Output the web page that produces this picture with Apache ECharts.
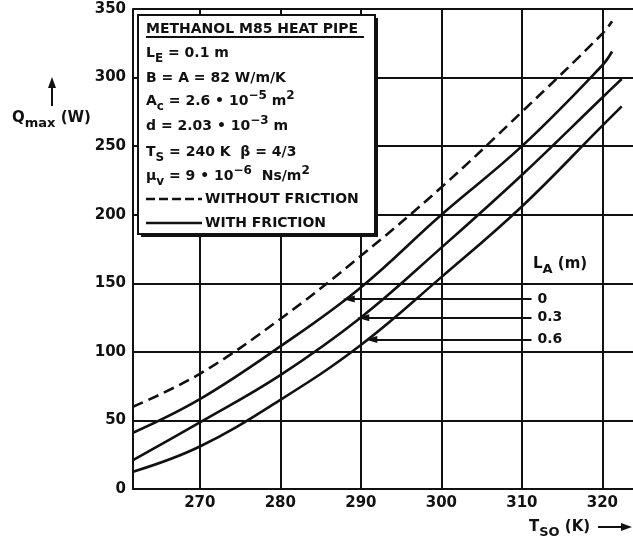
<!DOCTYPE html>
<html>
<head>
<meta charset="utf-8">
<script src="https://cdn.jsdelivr.net/npm/echarts@6/dist/echarts.min.js"></script>
<style>
  html, body { margin: 0; padding: 0; background: #fff; }
  #chart { width: 633px; height: 547px; }
</style>
</head>
<body>
<div id="chart"></div>
<script>
// Axis ticks
const xTicks = [270, 280, 290, 300, 310, 320];
const yTicks = [0, 50, 100, 150, 200, 250, 300, 350];

// Q_max (W) vs T_SO (K) — without friction (dashed)
const tNoFriction = [261.7, 270, 280, 290, 300, 310, 320, 321.2];
const qNoFriction = [60, 84, 124, 170, 220, 275, 332, 341];

// With friction, adiabatic length L_A = 0 m
const tLa0 = [261.7, 270, 280, 290, 300, 310, 320, 321.2];
const qLa0 = [41, 65.5, 104, 147, 200, 250, 309, 319];

// L_A = 0.3 m
const tLa03 = [261.7, 270, 280, 290, 300, 310, 320, 322.4];
const qLa03 = [21, 48.5, 83, 125, 176, 229, 285.5, 299];

// L_A = 0.6 m
const tLa06 = [261.7, 270, 280, 290, 300, 310, 320, 322.4];
const qLa06 = [12.6, 31, 65, 105, 154.5, 206, 265, 279];

// L_A callouts: label, Q level, arrow tip T, tail T
const laLabels = ['0', '0.3', '0.6'];
const laLevels = [138.6, 124.8, 109.1];
const laTips = [288.5, 290.3, 291.3];
const laTail = 311.2;

const INK = '#111';
const FONT = '"DejaVu Sans", "Liberation Sans", Arial, sans-serif';

function zip(xs, ys) { return xs.map((x, i) => [x, ys[i]]); }

function callout(i) {
  return {
    silent: true,
    symbol: ['none', 'triangle'],
    symbolSize: [7, 12],
    lineStyle: { color: INK, width: 2, type: 'solid' },
    label: {
      show: true, position: 'start', formatter: laLabels[i],
      color: INK, fontFamily: FONT, fontWeight: 'bold', fontSize: 14, distance: 6
    },
    emphasis: { disabled: true },
    data: [[{ coord: [laTail, laLevels[i]] }, { coord: [laTips[i], laLevels[i]] }]]
  };
}

function curve(name, xs, ys, dashed, mark) {
  const s = {
    name, type: 'line', data: zip(xs, ys),
    showSymbol: false, smooth: 0.4, silent: true,
    lineStyle: { color: INK, width: 2.6, type: dashed ? [11, 6] : 'solid' },
    z: 3
  };
  if (mark) s.markLine = mark;
  return s;
}

const rich = {
  n: { fontFamily: FONT, fontWeight: 'bold', fontSize: 14, color: INK },
  sub: { fontFamily: FONT, fontWeight: 'bold', fontSize: 12, color: INK, padding: [11, 0, 0, 0] },
  sup: { fontFamily: FONT, fontWeight: 'bold', fontSize: 12, color: INK, padding: [0, 0, 11, 0] },
  big: { fontFamily: FONT, fontWeight: 'bold', fontSize: 15, color: INK },
  bsub: { fontFamily: FONT, fontWeight: 'bold', fontSize: 13, color: INK, padding: [12, 0, 0, 0] }
};

function txt(x, y, text, extra) {
  return {
    type: 'text', x, y, z: 110, silent: true,
    style: Object.assign({ text, rich, align: 'left', verticalAlign: 'middle', font: 'bold 14px ' + FONT, fill: INK }, extra || {})
  };
}

const boxLines = [
  [53, '{n|L}{sub|E}{n| = 0.1 m}'],
  [78, '{n|B = A = 82 W/m/K}'],
  [101, '{n|A}{sub|c}{n| = 2.6 • 10}{sup|−5}{n| m}{sup|2}'],
  [126, '{n|d = 2.03 • 10}{sup|−3}{n| m}'],
  [152, '{n|T}{sub|S}{n| = 240 K  β = 4/3}'],
  [176, '{n|μ}{sub|v}{n| = 9 • 10}{sup|−6}{n|  Ns/m}{sup|2}']
];

const graphics = [
  // legend box with drop shadow
  { type: 'rect', z: 100, silent: true, shape: { x: 141, y: 18, width: 237, height: 219 }, style: { fill: INK } },
  { type: 'rect', z: 101, silent: true, shape: { x: 138, y: 15, width: 237, height: 219 }, style: { fill: '#fff', stroke: INK, lineWidth: 2 } },
  txt(146, 29, 'METHANOL M85 HEAT PIPE', { font: 'bold 14px ' + FONT }),
  { type: 'line', z: 110, silent: true, shape: { x1: 146, y1: 37, x2: 364, y2: 37 }, style: { stroke: INK, lineWidth: 2 } },
  ...boxLines.map(l => txt(146, l[0], l[1])),
  { type: 'line', z: 110, silent: true, shape: { x1: 146, y1: 199, x2: 202, y2: 199 }, style: { stroke: INK, lineWidth: 2.5, lineDash: [9, 4] } },
  txt(205, 199, 'WITHOUT FRICTION'),
  { type: 'line', z: 110, silent: true, shape: { x1: 146, y1: 223, x2: 202, y2: 223 }, style: { stroke: INK, lineWidth: 2.5 } },
  txt(205, 223, 'WITH FRICTION'),

  // y-axis title with upward arrow
  { type: 'line', z: 110, silent: true, shape: { x1: 52, y1: 106, x2: 52, y2: 86 }, style: { stroke: INK, lineWidth: 2 } },
  { type: 'polygon', z: 110, silent: true, shape: { points: [[52, 77], [48, 88], [56, 88]] }, style: { fill: INK } },
  txt(12, 118, '{big|Q}{bsub|max}{big| (W)}'),

  // x-axis title with right arrow
  txt(529, 527, '{big|T}{bsub|SO}{big| (K)}'),
  { type: 'line', z: 110, silent: true, shape: { x1: 598, y1: 527, x2: 622, y2: 527 }, style: { stroke: INK, lineWidth: 2 } },
  { type: 'polygon', z: 110, silent: true, shape: { points: [[632, 527], [621, 523], [621, 531]] }, style: { fill: INK } },

  // L_A heading for the callouts
  txt(533, 264, '{big|L}{bsub|A}{big| (m)}')
];

const chart = echarts.init(document.getElementById('chart'), null, { renderer: 'canvas' });
chart.setOption({
  animation: false,
  backgroundColor: '#fff',
  grid: { left: 133, right: 0, top: 9, bottom: 58, containLabel: false },
  xAxis: {
    type: 'value', min: 261.7, max: 323.8,
    axisLine: { show: true, onZero: false, lineStyle: { color: INK, width: 2 } },
    axisTick: { show: false, customValues: xTicks },
    axisLabel: { customValues: xTicks, color: INK, fontFamily: FONT, fontWeight: 'bold', fontSize: 15, margin: 7 },
    splitLine: { show: true, lineStyle: { color: INK, width: 2 } }
  },
  yAxis: {
    type: 'value', min: yTicks[0], max: yTicks[yTicks.length - 1], interval: 50,
    axisLine: { show: true, onZero: false, lineStyle: { color: INK, width: 2 } },
    axisTick: { show: false },
    axisLabel: { color: INK, fontFamily: FONT, fontWeight: 'bold', fontSize: 15, margin: 7 },
    splitLine: { show: true, lineStyle: { color: INK, width: 2 } }
  },
  series: [
    curve('Without friction', tNoFriction, qNoFriction, true),
    curve('L_A = 0', tLa0, qLa0, false, callout(0)),
    curve('L_A = 0.3', tLa03, qLa03, false, callout(1)),
    curve('L_A = 0.6', tLa06, qLa06, false, callout(2))
  ],
  graphic: graphics
});
</script>
</body>
</html>
